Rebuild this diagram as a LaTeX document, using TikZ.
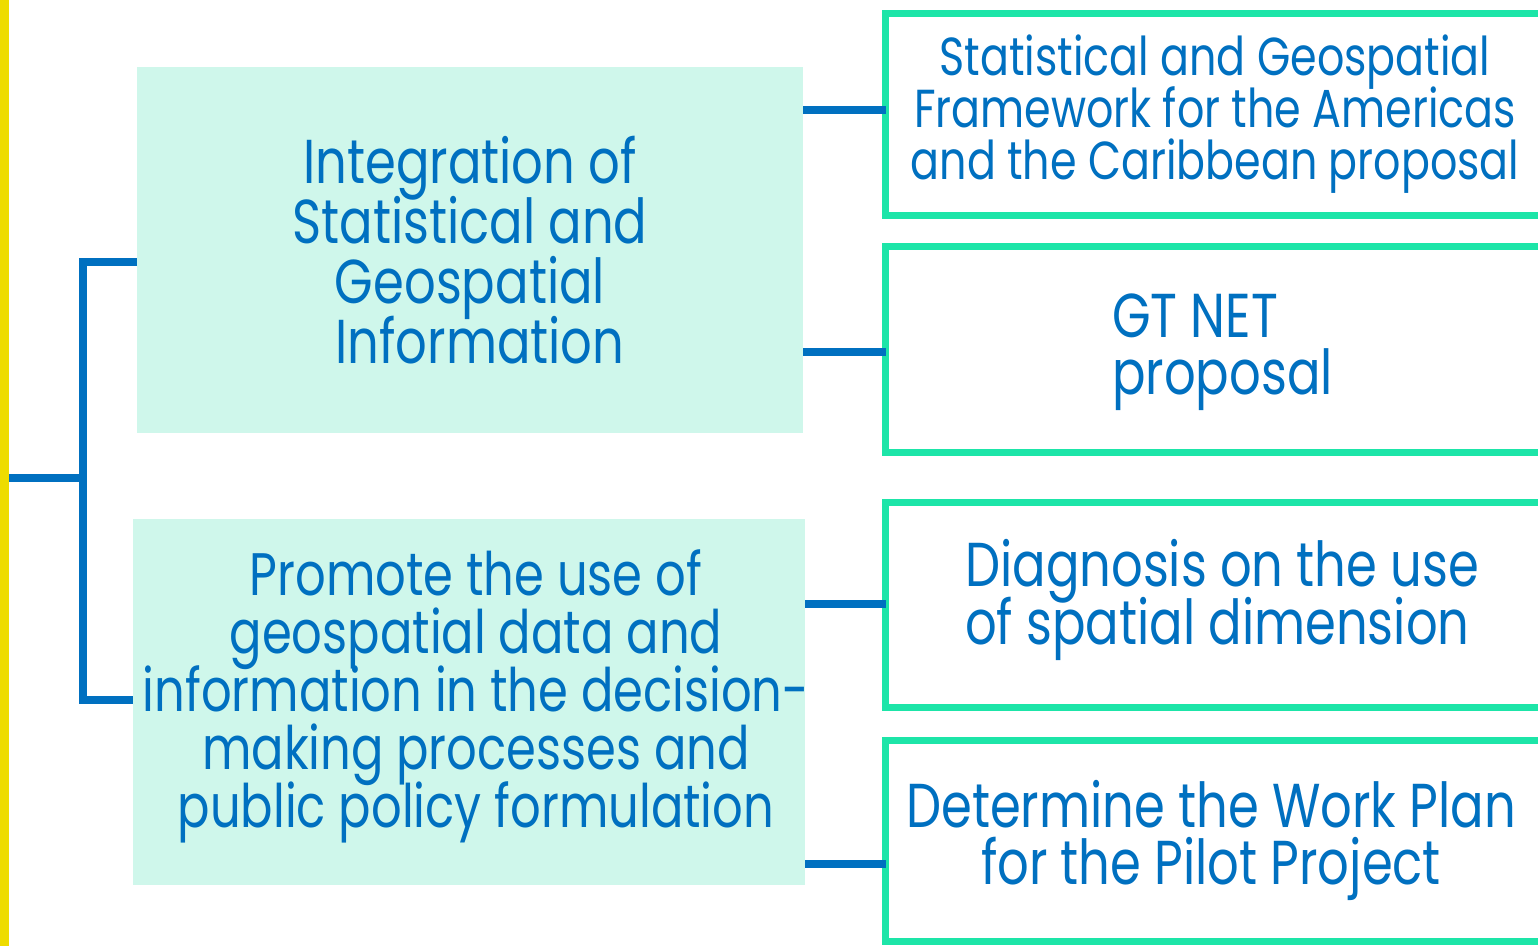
\documentclass[tikz,border=0pt]{standalone}
\usepackage{fontspec}
\setmainfont{Poppins}[FakeStretch=0.8]
\definecolor{tblue}{HTML}{0070C0}
\definecolor{mint}{HTML}{CFF7EB}
\definecolor{tgreen}{HTML}{1DE5A8}
\definecolor{tyellow}{HTML}{EEDC00}
\setlength{\lineskiplimit}{-200pt}
\tikzset{
  leftbox/.style={fill=mint, draw=none, inner sep=0pt, outer sep=0pt},
  rbox/.style={draw=tgreen, line width=7pt, fill=white, inner sep=0pt, outer sep=0pt, minimum width=700pt, anchor=north west},
  conn/.style={draw=tblue, line width=8.5pt, line join=miter},
  txt/.style={text=tblue, inner sep=0pt},
}
\begin{document}
\begin{tikzpicture}[x=1pt,y=-1pt]
\useasboundingbox (0,0) rectangle (1538,946);
\clip (0,0) rectangle (1538,946);
\fill[white] (0,0) rectangle (1538,946);
\node[fill=tyellow, minimum width=9pt, minimum height=946pt, inner sep=0pt, outer sep=0pt, anchor=north west] (bar) at (0,0) {};
% left boxes
\node[leftbox, minimum width=666pt, minimum height=366pt] (A) at (470,250) {};
\node[leftbox, minimum width=672pt, minimum height=366pt] (B) at (469,702) {};
% right boxes
\node[rbox, minimum height=202pt] (b1) at (885.5,13.5) {};
\node[rbox, minimum height=206pt] (b2) at (885.5,246.5) {};
\node[rbox, minimum height=205pt] (b3) at (885.5,502.5) {};
\node[rbox, minimum height=201pt] (b4) at (885.5,740.5) {};
% tree
\coordinate (spine) at (83,478);
\draw[conn] (bar.east |- spine) -- (spine);
\draw[conn] (A.west |- 0,262) -- (83,262) -- (83,700) -- (B.west |- 0,700);
% connectors
\draw[conn] (A.east |- 0,110) -- (b1.west |- 0,110);
\draw[conn] (A.east |- 0,352) -- (b2.west |- 0,352);
\draw[conn] (B.east |- 0,604) -- (b3.west |- 0,604);
\draw[conn] (B.east |- 0,864) -- (b4.west |- 0,864);
% texts
\node[txt, align=center, font=\fontsize{62}{60}\selectfont] (tA) at (470,250) {Integration of\\Statistical and\\Geospatial\\\hspace*{20pt}Information};
\node[txt, align=center, font=\fontsize{60}{58}\selectfont] (tB) at (476,696) {Promote the use of\\geospatial data and\\information in the decision-\\making processes and\\public policy formulation};
\node[txt, align=center, font=\fontsize{53.5}{52}\selectfont] (t1) at (1215,114) {Statistical and Geospatial\\Framework for the Americas\\and the Caribbean proposal};
\node[txt, align=left, font=\fontsize{62}{57}\selectfont, anchor=west] (t2) at (1112,352) {GT NET\\proposal};
\node[txt, align=left, font=\fontsize{62}{58}\selectfont, anchor=west] (t3) at (965,600) {Diagnosis on the use\\of spatial dimension};
\node[txt, align=center, font=\fontsize{62}{57}\selectfont] (t4) at (1211,840) {Determine the Work Plan\\for the Pilot Project};
\end{tikzpicture}
\end{document}
